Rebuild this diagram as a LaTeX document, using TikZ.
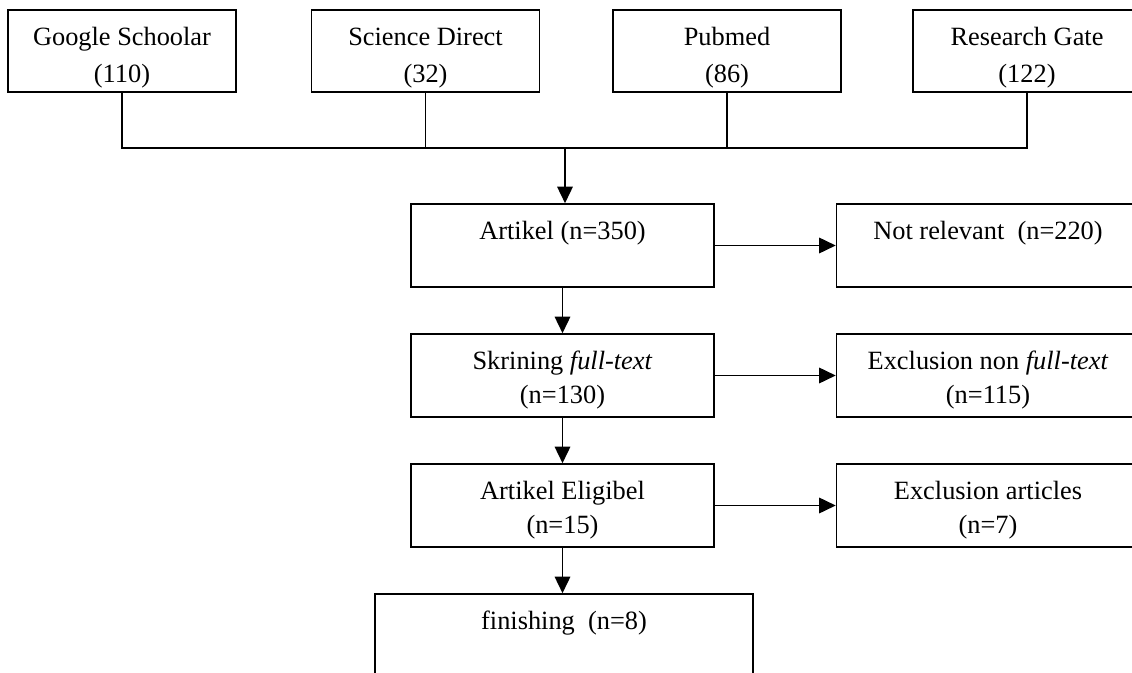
\documentclass[tikz,border=0pt]{standalone}
\usepackage{fontspec}
\setmainfont{Liberation Serif}
\usetikzlibrary{arrows.meta}

\begin{document}
\begin{tikzpicture}[
    box/.style={rectangle, draw, line width=0.9pt, minimum width=6.06cm, minimum height=1.66cm, inner sep=0pt, align=center, font=\fontsize{15}{19.5}\selectfont, text height=35.6pt, text depth=3.3pt},
    source/.style={box, minimum width=4.56cm, minimum height=1.64cm, font=\fontsize{15}{21}\selectfont, text height=38.8pt},
    connection/.style={line width=0.9pt},
    arrow/.style={connection, -{Triangle[length=0.33cm, width=0.31cm]}}
  ]
    \useasboundingbox (0,0) rectangle (22.64,-13.46);

    % Sources
    \foreach \n/\x/\txt in {google/2.44/{Google Schoolar\\(110)}, science/8.51/{Science Direct\\(32)}, pubmed/14.54/{Pubmed\\(86)}, rgate/20.54/{Research Gate\\(122)}}
      \node[source] (\n) at (\x,-1.02) {\txt};

    % Main column
    \node[box] (artikel) at (11.25,-4.91) {Artikel (n=350)\\ \strut};
    \node[box] (skrining) at (11.25,-7.51) {Skrining \textit{full-text}\\(n=130)};
    \node[box] (eligibel) at (11.25,-10.11) {Artikel Eligibel\\(n=15)};
    \node[box, minimum width=7.56cm] (finishing) at (11.28,-12.71) {finishing\ \ (n=8)\\ \strut};

    % Exclusions
    \node[box] (notrel) at (19.76,-4.91) {Not relevant\ \ (n=220)\\ \strut};
    \node[box] (exfull) at (19.76,-7.51) {Exclusion non \textit{full-text}\\(n=115)};
    \node[box] (exart) at (19.76,-10.11) {Exclusion articles\\(n=7)};

    % Connections
    \coordinate (bus) at (11.3,-2.96);
    \draw[connection] (google.south) -- (google.south |- bus) -- (rgate.south |- bus) -- (rgate.south);
    \foreach \n in {science,pubmed}
      \draw[connection] (\n.south) -- (\n.south |- bus);
    \draw[arrow] (bus) -- (artikel.north -| bus);

    \draw[arrow] (artikel) -- (skrining);
    \draw[arrow] (skrining) -- (eligibel);
    \draw[arrow] (eligibel.south) -- (finishing.north -| eligibel.south);

    \draw[arrow] (artikel) -- (notrel);
    \draw[arrow] (skrining) -- (exfull);
    \draw[arrow] (eligibel) -- (exart);

  \end{tikzpicture}
\end{document}
